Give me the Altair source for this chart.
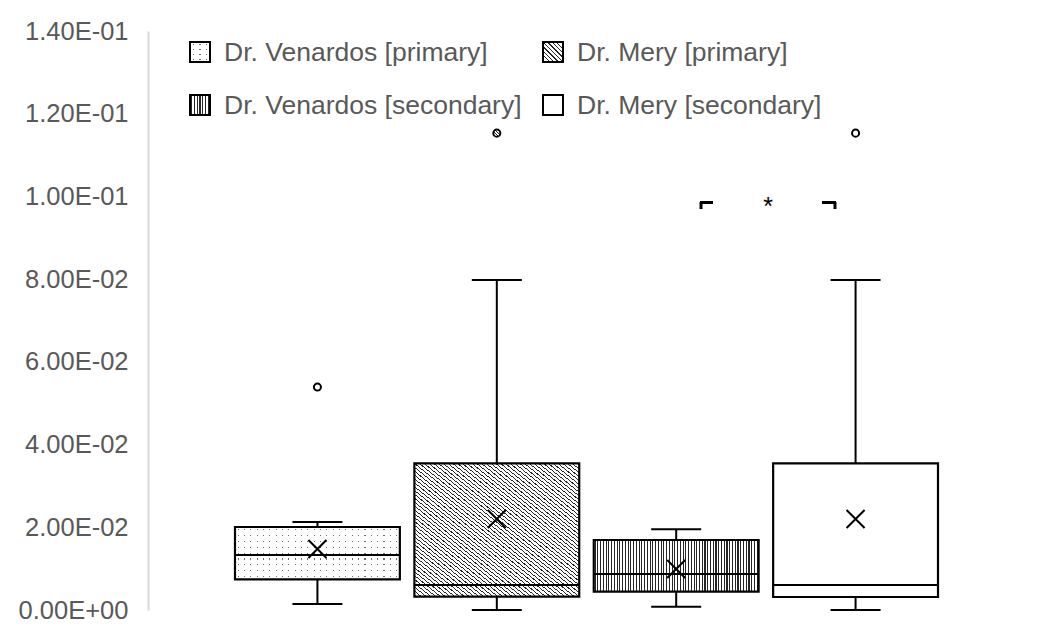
import altair as alt
import pandas as pd
import math

# ---------------- data ----------------
groups = ["Dr. Venardos [primary]", "Dr. Mery [primary]",
          "Dr. Venardos [secondary]", "Dr. Mery [secondary]"]
whisker_low = [0.00145, 0.0, 0.0008, 0.0]
q1 = [0.00742, 0.00322, 0.00442, 0.00314]
median = [0.0133, 0.00605, 0.0087, 0.00605]
q3 = [0.02007, 0.03547, 0.01693, 0.03547]
whisker_high = [0.02128, 0.0798, 0.01951, 0.0798]
mean = [0.01475, 0.0220, 0.00991, 0.0220]
outlier_group = ["Dr. Venardos [primary]", "Dr. Mery [primary]", "Dr. Mery [secondary]"]
outlier_value = [0.0539, 0.1153, 0.1153]
y_ticks = [0.0, 0.02, 0.04, 0.06, 0.08, 0.10, 0.12, 0.14]
significance = "*"

df = pd.DataFrame({"group": groups, "wlo": whisker_low, "q1": q1, "med": median,
                   "q3": q3, "whi": whisker_high, "mean": mean})
out = pd.DataFrame({"group": outlier_group, "value": outlier_value})

# ---------------- layout constants ----------------
W, H = 877, 579
P_IN, P_OUT = 0.081, 0.485
STEP = W / (4 - P_IN + 2 * P_OUT)
BW = STEP * (1 - P_IN)
K = H / 0.14
FONT = "Liberation Sans"
GRAY = "#595959"
INK = "#262626"
DOT = "#6e6e6e"


def stripe_grad(n, duty, on, off, x1, y1, x2, y2):
    stops = [alt.GradientStop(offset=0, color=off)]
    for i in range(n):
        a = round((i + 0.5 - duty / 2) / n, 5)
        b = round((i + 0.5 + duty / 2) / n, 5)
        stops += [alt.GradientStop(offset=a, color=off), alt.GradientStop(offset=a, color=on),
                  alt.GradientStop(offset=b, color=on), alt.GradientStop(offset=b, color=off)]
    stops.append(alt.GradientStop(offset=1, color=off))
    return alt.LinearGradient(gradient="linear", stops=stops, x1=x1, y1=y1, x2=x2, y2=y2)


def vstripes(w):
    return stripe_grad(max(1, round(w / 2.75)), 0.4, INK, "white", 0, 0, 1, 0)


def diag(w, h):
    n = max(1, round(2 * w * h / math.hypot(w, h) / 3.0))
    return stripe_grad(n, 0.27, INK, "white", 0, 1, 1, 0)


CLEAR = "rgba(255,255,255,0)"


def dots_x(w):
    return stripe_grad(max(1, round(w / 6.4)), 0.17, CLEAR, "white", 0, 0, 1, 0)


def dots_y(h):
    return stripe_grad(max(1, round(h / 5.6)), 0.19, CLEAR, "white", 0, 0, 0, 1)


yaxis = alt.Axis(values=y_ticks, grid=False, ticks=False, domainColor="#d9d9d9", domainWidth=2,
                 labelColor=GRAY, labelFont=FONT, labelFontSize=25.5, labelPadding=20,
                 labelExpr="replace(replace(format(datum.value, '.2e'), 'e-', 'E-0'), 'e+', 'E+0')",
                 title=None)
yscale = alt.Scale(domain=[0, 0.14], nice=False, zero=True)
xenc = alt.X("group:N", sort=groups, axis=None,
             scale=alt.Scale(domain=groups, paddingInner=P_IN, paddingOuter=P_OUT))


def Y(field):
    return alt.Y(field, scale=yscale, axis=yaxis)


base = alt.Chart(df)
layers = []

# whiskers
layers.append(base.mark_rule(color="black", strokeWidth=2).encode(x=xenc, y=Y("q3:Q"), y2="whi:Q"))
layers.append(base.mark_rule(color="black", strokeWidth=2).encode(x=xenc, y=Y("wlo:Q"), y2="q1:Q"))
layers.append(base.mark_tick(color="black", size=50, thickness=2, opacity=1).encode(x=xenc, y=Y("whi:Q")))
layers.append(base.mark_tick(color="black", size=50, thickness=2, opacity=1).encode(x=xenc, y=Y("wlo:Q")))

# boxes with patterns
for i, g in enumerate(groups):
    h = (q3[i] - q1[i]) * K
    b = base.transform_filter(alt.datum.group == g)
    enc = dict(x=xenc, y=Y("q1:Q"), y2="q3:Q")
    if i == 0:
        layers.append(b.mark_bar(fill=DOT).encode(**enc))
        layers.append(b.mark_bar(fill=dots_x(BW)).encode(**enc))
        layers.append(b.mark_bar(fill=dots_y(h)).encode(**enc))
    elif i == 1:
        layers.append(b.mark_bar(fill=diag(BW, h)).encode(**enc))
    elif i == 2:
        layers.append(b.mark_bar(fill=vstripes(BW)).encode(**enc))
    else:
        layers.append(b.mark_bar(fill="white").encode(**enc))

layers.append(base.mark_bar(fill="transparent", stroke="black", strokeWidth=2.2)
              .encode(x=xenc, y=Y("q1:Q"), y2="q3:Q"))
layers.append(base.mark_tick(color="black", size=BW, thickness=2, opacity=1).encode(x=xenc, y=Y("med:Q")))

# means
layers.append(base.mark_point(shape="M-1,-1L1,1M1,-1L-1,1", size=324, filled=False,
                              stroke="black", strokeWidth=2, opacity=1)
              .encode(x=xenc, y=Y("mean:Q")))

# outliers
ob = alt.Chart(out)
for g in outlier_group:
    fill = diag(9, 9) if g == groups[1] else "white"
    layers.append(ob.transform_filter(alt.datum.group == g)
                  .mark_point(shape="circle", size=50, filled=True, fill=fill, stroke="black",
                              strokeWidth=2, opacity=1)
                  .encode(x=xenc, y=Y("value:Q")))

# significance bracket (annotation, pixel placed)
one = alt.Chart(pd.DataFrame({"k": [0]}))
for (xa, xb, ya, yb) in [(552, 565, 171.5, 171.5), (553, 553, 171, 178),
                         (674, 688, 171.5, 171.5), (687, 687, 171, 178)]:
    layers.append(one.mark_rule(color="black", strokeWidth=3)
                  .encode(x=alt.value(xa), x2=alt.value(xb), y=alt.value(ya), y2=alt.value(yb)))
layers.append(one.mark_text(fontSize=25, font=FONT, color="black", align="center", baseline="alphabetic")
              .encode(x=alt.value(620), y=alt.value(184), text=alt.value(significance)))

# legend (annotation, pixel placed)
SW = 20
leg_pos = [(42, 21), (395, 21), (42, 74), (395, 74)]
for i, g in enumerate(groups):
    lx, ly = leg_pos[i]
    enc = dict(x=alt.value(lx), x2=alt.value(lx + SW), y=alt.value(ly - SW / 2), y2=alt.value(ly + SW / 2))
    if i == 0:
        layers.append(one.mark_rect(fill=DOT).encode(**enc))
        layers.append(one.mark_rect(fill=dots_x(SW)).encode(**enc))
        layers.append(one.mark_rect(fill=dots_y(SW)).encode(**enc))
    elif i == 1:
        layers.append(one.mark_rect(fill=diag(SW, SW)).encode(**enc))
    elif i == 2:
        layers.append(one.mark_rect(fill=vstripes(SW)).encode(**enc))
    else:
        layers.append(one.mark_rect(fill="white").encode(**enc))
    layers.append(one.mark_rect(fill="transparent", stroke="black", strokeWidth=2).encode(**enc))
    layers.append(one.mark_text(fontSize=26.5, font=FONT, color=GRAY, align="left", baseline="middle")
                  .encode(x=alt.value(lx + 34), y=alt.value(ly + 1), text=alt.value(g)))

chart = alt.layer(*layers).properties(
    width=W, height=H,
    background="white",
    autosize=alt.AutoSizeParams(type="none"),
    padding={"left": 140, "top": 23, "right": 10, "bottom": 16},
).configure_view(strokeWidth=0, stroke="transparent")

chart.save("out.html", embed_options={"renderer": "svg", "actions": False})
